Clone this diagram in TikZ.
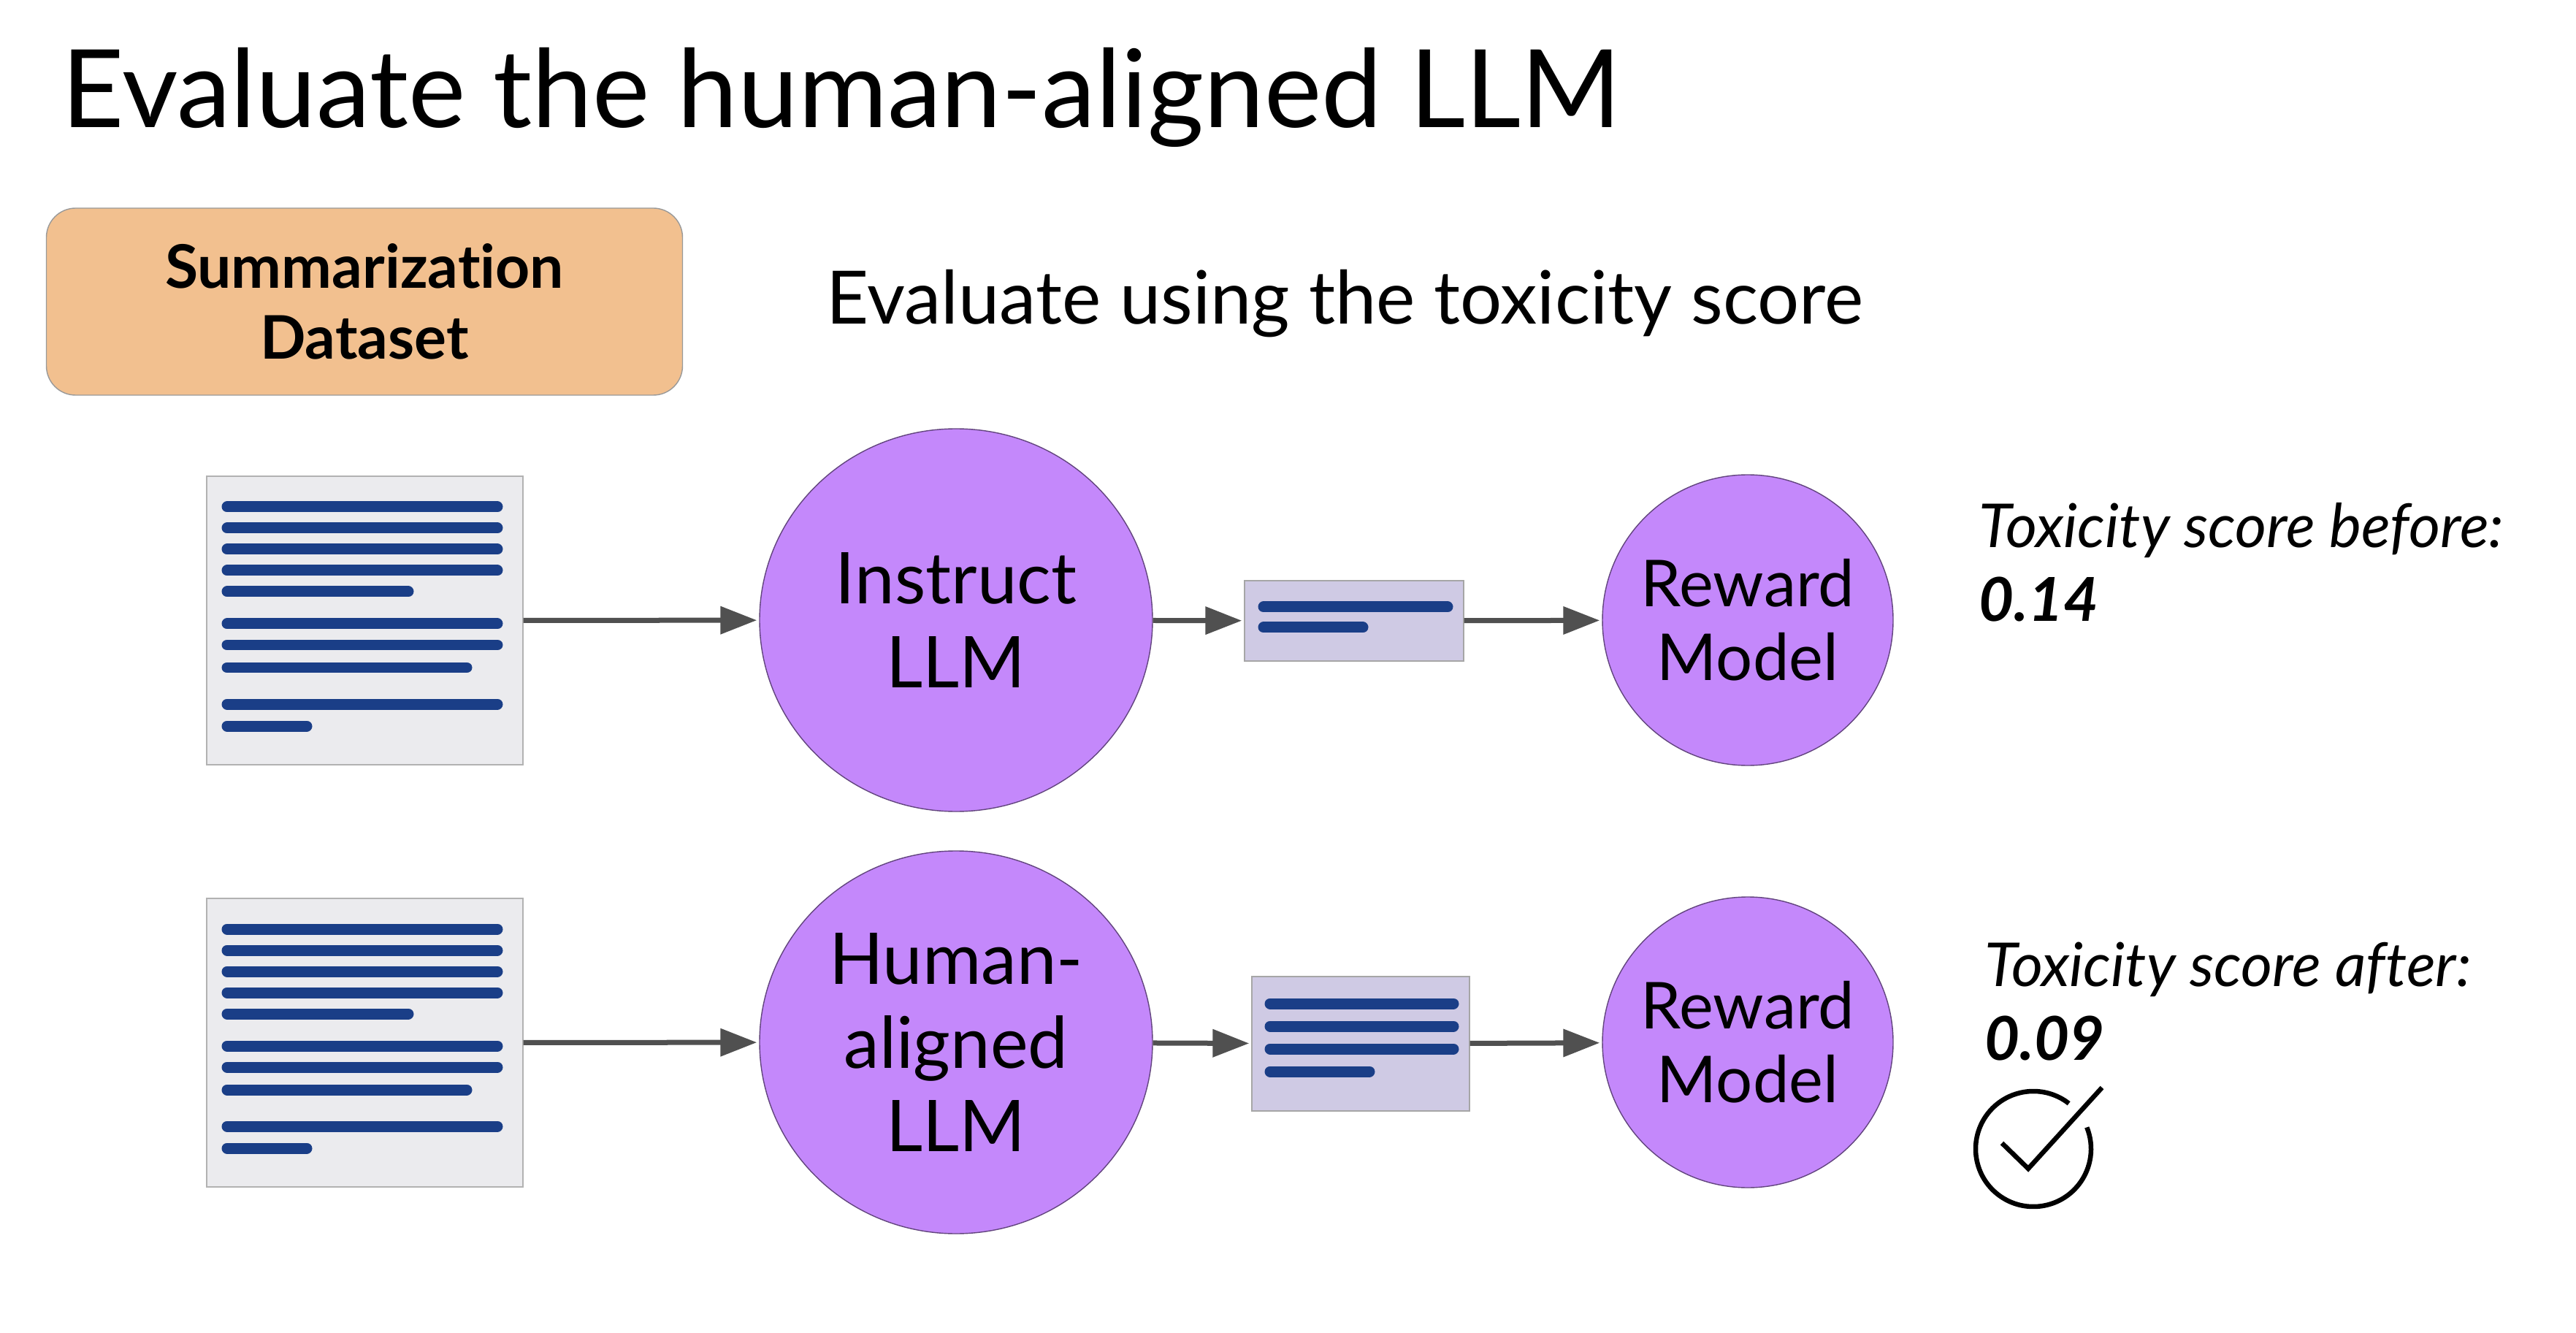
\documentclass[tikz,border=0pt]{standalone}
\usepackage{fontspec}
\setmainfont{Lato}[Ligatures=CommonOff]
\usetikzlibrary{
  arrows.meta,
  shapes.geometric
}
\definecolor{datasetfill}{HTML}{F2C08F}
\definecolor{modelfill}{HTML}{C488FB}
\definecolor{docfill}{HTML}{EBEBEE}
\definecolor{outfill}{HTML}{CFCAE4}
\definecolor{inkblue}{HTML}{1A3E87}
\definecolor{arrowgrey}{HTML}{505050}
\tikzset{
  dataset/.style={draw=black!40,fill=datasetfill,rounded corners=0.4cm,minimum width=8.71cm,minimum height=2.56cm,align=center,inner sep=0pt,font=\fontsize{23.4}{27.5}\selectfont\bfseries},
  model/.style={draw=modelfill!50!black,fill=modelfill,inner sep=0pt,align=center},
  llm/.style={model,ellipse,minimum width=5.38cm,minimum height=5.24cm,font=\fontsize{27.8}{32.7}\selectfont},
  reward/.style={model,circle,minimum size=3.98cm,font=\fontsize{25.2}{28.8}\selectfont},
  doc/.style={draw=black!30,fill=docfill,minimum width=4.33cm,minimum height=3.95cm,inner sep=0pt},
  outbox/.style={draw=black!35,fill=outfill,inner sep=0pt},
  score/.style={anchor=west,align=left,inner sep=0pt,font=\fontsize{23.6}{28.8}\selectfont\itshape},
  link/.style={draw=arrowgrey,line width=0.07cm,shorten >=0.03cm,-{Triangle[length=0.5cm,width=0.37cm]}},
  textline/.style={draw=inkblue,line width=0.15cm,line cap=round}
}
\begin{document}
\begin{tikzpicture}
\useasboundingbox (0,0) rectangle (35.27,-18.25);
\node[anchor=west,inner sep=0pt,font=\fontsize{42.2}{50}\selectfont] (title) at (0.84,-1.33) {Evaluate the human-aligned LLM};
\node[dataset] (data) at (4.99,-4.13) {Summarization\\Dataset};
\node[anchor=west,inner sep=0pt,font=\fontsize{28.7}{34}\selectfont] (metric) at (11.31,-4.16) {Evaluate using the toxicity score};
% top row
\node[doc] (docA) at (4.995,-8.495) {};
\node[llm] (instruct) at (13.09,-8.49) {Instruct\\LLM};
\node[outbox,minimum width=3.00cm,minimum height=1.10cm] (outA) at (18.54,-8.50) {};
\node[reward] (rewardA) at (23.93,-8.49) {Reward\\Model};
\node[score] (before) at (27.09,-7.70) {Toxicity score before:\\\textbf{0.14}};
% bottom row
\node[doc] (docB) at (4.995,-14.275) {};
\node[llm] (aligned) at (13.09,-14.27) {Human-\\aligned\\LLM};
\node[outbox,minimum width=2.98cm,minimum height=1.84cm] (outB) at (18.63,-14.29) {};
\node[reward] (rewardB) at (23.93,-14.27) {Reward\\Model};
\node[score] (after) at (27.17,-13.71) {Toxicity score after:\\\textbf{0.09}};
% text lines in the two documents
\foreach \dy in {0,-5.78}{
  \foreach \ly/\lx in {6.94/6.81,7.23/6.81,7.52/6.81,7.81/6.81,8.10/5.59,8.54/6.81,8.83/6.81,9.14/6.39,9.64/6.81,9.94/4.20}
    \draw[textline] (3.11,\dy-\ly) -- (\lx,\dy-\ly);
}
% text lines in the two outputs
\foreach \ly/\lx in {8.31/19.82,8.59/18.66}
  \draw[textline] (17.30,-\ly) -- (\lx,-\ly);
\foreach \ly/\lx in {13.74/19.90,14.05/19.90,14.36/19.90,14.67/18.75}
  \draw[textline] (17.39,-\ly) -- (\lx,-\ly);
\draw[link] (docA) -- (instruct);
\draw[link] (instruct) -- (outA);
\draw[link] (outA) -- (rewardA);
\draw[link] (docB) -- (aligned);
\draw[link] (aligned) -- (outB);
\draw[link] (outB) -- (rewardB);
% check mark
\coordinate (tick) at (27.84,-15.73);
\draw[line width=0.065cm] (tick) ++(52:0.79) arc[start angle=52,end angle=382,radius=0.79];
\draw[line width=0.065cm] (27.41,-15.65) -- (27.77,-16.00) -- (28.78,-14.89);
\end{tikzpicture}
\end{document}
